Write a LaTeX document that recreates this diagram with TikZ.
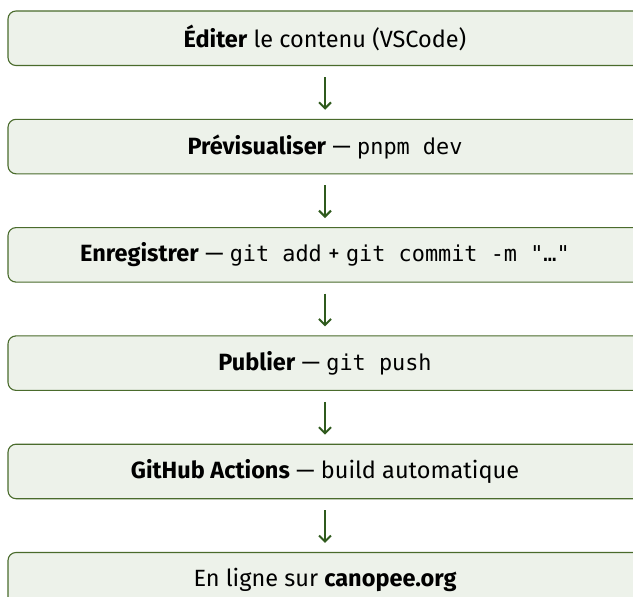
\documentclass[tikz,border=0pt]{standalone}
\usepackage{fontspec}
\setmainfont{Fira Sans}
\setmonofont{DejaVu Sans Mono}[Scale=0.93]
\usetikzlibrary{positioning,arrows.meta}

\definecolor{leafline}{HTML}{4A6B2C}
\definecolor{leaffill}{HTML}{EDF2EA}
\definecolor{leafarrow}{HTML}{2F5A1D}

\begin{document}
\begin{tikzpicture}[
            x=1pt, y=1pt,
            node distance=52.7pt,
            box/.style={rectangle, draw=leafline, fill=leaffill, line width=1.1pt, minimum height=54.5pt, minimum width=634pt, rounded corners=8pt, align=center, font=\fontsize{23.5}{28}\selectfont},
            arrow/.style={-{Straight Barb[length=6pt, width=12pt, line width=2pt]}, line width=2pt, draw=leafarrow, shorten <=11pt, shorten >=9pt}
        ]
        \useasboundingbox (0,0) rectangle (633,-597);

        % Steps
        \node[box] (edit) at (325,-38.25) {\textbf{Éditer} le contenu (VSCode)};
        \node[box, below=of edit] (preview) {\textbf{Prévisualiser} — \texttt{pnpm dev}};
        \node[box, below=of preview] (commit) {\textbf{Enregistrer} — \texttt{git add} + \texttt{git commit -m "…"}};
        \node[box, below=of commit] (push) {\textbf{Publier} — \texttt{git push}};
        \node[box, below=of push] (actions) {\textbf{GitHub Actions} — build automatique};
        \node[box, below=of actions] (online) {En ligne sur \textbf{canopee.org}};

        % Arrows
        \draw[arrow] (edit) -- (preview);
        \draw[arrow] (preview) -- (commit);
        \draw[arrow] (commit) -- (push);
        \draw[arrow] (push) -- (actions);
        \draw[arrow] (actions) -- (online);

\end{tikzpicture}
\end{document}
